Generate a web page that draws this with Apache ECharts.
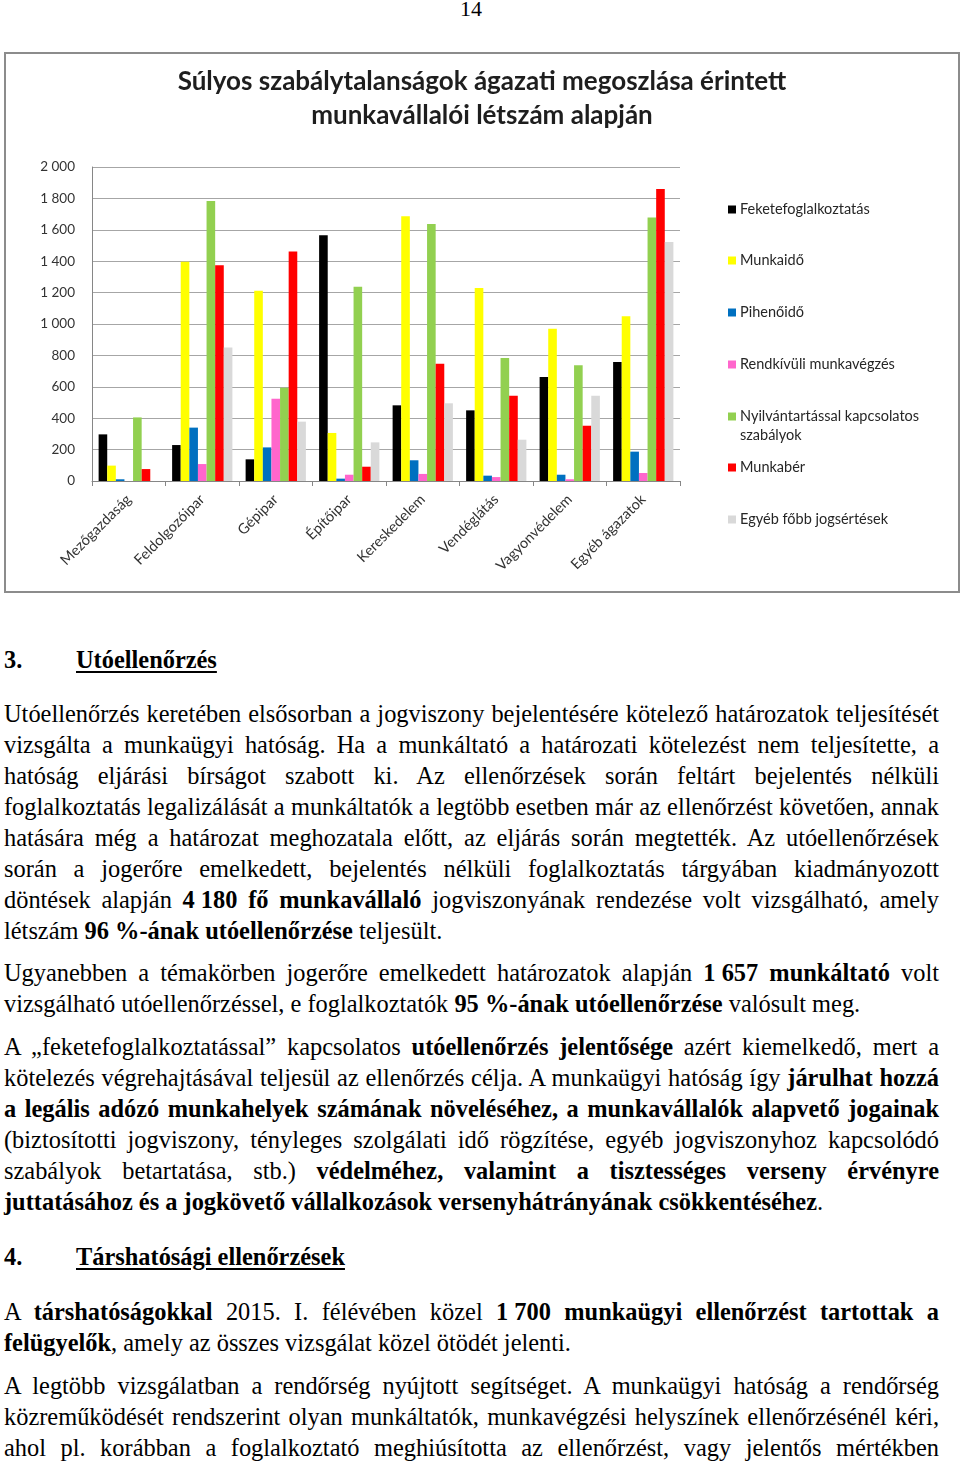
<!DOCTYPE html>
<html><head><meta charset="utf-8">
<script src="https://cdn.jsdelivr.net/npm/echarts@6/dist/echarts.min.js"></script>
<style>
body{margin:0;background:#fff;width:960px;height:1463px;position:relative;overflow:hidden;font-family:"Liberation Serif","Times New Roman",serif;color:#000}
#pn{position:absolute;top:-4px;left:0;width:942px;text-align:center;font-size:22px;line-height:26px}
#chart{position:absolute;left:4px;top:52px;width:956px;height:541px;border:2px solid #8c8c8c;box-sizing:border-box}
.blk{position:absolute;left:4px;width:935px;font-size:24.4px;line-height:31px}
.l{text-align:justify;text-align-last:justify;white-space:nowrap}
.e{text-align:left;text-align-last:left}
.nb{display:inline-block;white-space:nowrap}
.hd{font-weight:bold;text-align:left}
.hd .n{display:inline-block;width:72px}
.hd u{text-decoration-thickness:2px;text-underline-offset:3px}
</style></head>
<body>
<div id="pn">14</div>
<div id="chart"></div>

<div class="blk hd" style="top:644px"><span class="n">3.</span><u>Utóellenőrzés</u></div>

<div class="blk" style="top:698px">
<div class="l">Utóellenőrzés keretében elsősorban a jogviszony bejelentésére kötelező határozatok teljesítését</div>
<div class="l">vizsgálta a munkaügyi hatóság. Ha a munkáltató a határozati kötelezést nem teljesítette, a</div>
<div class="l">hatóság eljárási bírságot szabott ki. Az ellenőrzések során feltárt bejelentés nélküli</div>
<div class="l">foglalkoztatás legalizálását a munkáltatók a legtöbb esetben már az ellenőrzést követően, annak</div>
<div class="l">hatására még a határozat meghozatala előtt, az eljárás során megtették. Az utóellenőrzések</div>
<div class="l">során a jogerőre emelkedett, bejelentés nélküli foglalkoztatás tárgyában kiadmányozott</div>
<div class="l">döntések alapján <b><span class="nb">4 180</span> fő munkavállaló</b> jogviszonyának rendezése volt vizsgálható, amely</div>
<div class="l e">létszám <b>96&nbsp;%-ának utóellenőrzése</b> teljesült.</div>
</div>

<div class="blk" style="top:957px">
<div class="l">Ugyanebben a témakörben jogerőre emelkedett határozatok alapján <b><span class="nb">1 657</span> munkáltató</b> volt</div>
<div class="l e">vizsgálható utóellenőrzéssel, e foglalkoztatók <b>95&nbsp;%-ának utóellenőrzése</b> valósult meg.</div>
</div>

<div class="blk" style="top:1031px">
<div class="l">A „feketefoglalkoztatással” kapcsolatos <b>utóellenőrzés jelentősége</b> azért kiemelkedő, mert a</div>
<div class="l">kötelezés végrehajtásával teljesül az ellenőrzés célja. A munkaügyi hatóság így <b>járulhat hozzá</b></div>
<div class="l"><b>a legális adózó munkahelyek számának növeléséhez, a munkavállalók alapvető jogainak</b></div>
<div class="l">(biztosítotti jogviszony, tényleges szolgálati idő rögzítése, egyéb jogviszonyhoz kapcsolódó</div>
<div class="l">szabályok betartatása, stb.) <b>védelméhez, valamint a tisztességes verseny érvényre</b></div>
<div class="l e"><b>juttatásához és a jogkövető vállalkozások versenyhátrányának csökkentéséhez</b>.</div>
</div>

<div class="blk hd" style="top:1241px"><span class="n">4.</span><u>Társhatósági ellenőrzések</u></div>

<div class="blk" style="top:1296px">
<div class="l">A <b>társhatóságokkal</b> 2015. I. félévében közel <b><span class="nb">1 700</span> munkaügyi ellenőrzést tartottak a</b></div>
<div class="l e"><b>felügyelők</b>, amely az összes vizsgálat közel ötödét jelenti.</div>
</div>

<div class="blk" style="top:1370px">
<div class="l">A legtöbb vizsgálatban a rendőrség nyújtott segítséget. A munkaügyi hatóság a rendőrség</div>
<div class="l">közreműködését rendszerint olyan munkáltatók, munkavégzési helyszínek ellenőrzésénél kéri,</div>
<div class="l">ahol pl. korábban a foglalkoztató meghiúsította az ellenőrzést, vagy jelentős mértékben</div>
</div>

<script>
const titleLines = ['Súlyos szabálytalanságok ágazati megoszlása érintett', 'munkavállalói létszám alapján'];
const categories = ['Mezőgazdaság', 'Feldolgozóipar', 'Gépipar', 'Építőipar', 'Kereskedelem', 'Vendéglátás', 'Vagyonvédelem', 'Egyéb ágazatok'];
const seriesNames = ['Feketefoglalkoztatás', 'Munkaidő', 'Pihenőidő', 'Rendkívüli munkavégzés', 'Nyilvántartással kapcsolatos szabályok', 'Munkabér', 'Egyéb főbb jogsértések'];
const seriesColors = ['#000000', '#FFFF00', '#0070C0', '#FF66CC', '#92D050', '#FF0000', '#D9D9D9'];
const feketefoglalkoztatas = [297, 229, 138, 1565, 482, 450, 662, 758];
const munkaido = [98, 1397, 1212, 306, 1686, 1229, 970, 1049];
const pihenoido = [11, 340, 214, 15, 132, 34, 40, 187];
const rendkivuli = [0, 108, 524, 40, 45, 25, 11, 51];
const nyilvantartas = [405, 1783, 594, 1238, 1637, 783, 737, 1679];
const munkaber = [76, 1374, 1461, 91, 747, 543, 352, 1860];
const egyeb = [0, 851, 378, 246, 495, 263, 543, 1522];
const seriesValues = [feketefoglalkoztatas, munkaido, pihenoido, rendkivuli, nyilvantartas, munkaber, egyeb];
const yMin = 0, yMax = 2000, yStep = 200;

const legendCenters = [155, 206, 258, 310, 362, 413, 465];
const sans = 'Lato, "Open Sans", sans-serif';

const chart = echarts.init(document.getElementById('chart'), null, {renderer: 'canvas'});
const fmtThousands = v => v >= 1000 ? Math.floor(v / 1000) + ' ' + String(v % 1000).padStart(3, '0') : String(v);

const legends = seriesNames.map((name, i) => {
  const twoLine = name === 'Nyilvántartással kapcsolatos szabályok';
  return {
    data: [name],
    orient: 'vertical',
    left: 722,
    top: twoLine ? legendCenters[i] - 28 : legendCenters[i] - 9,
    padding: 0,
    itemWidth: 8,
    itemHeight: 8,
    itemGap: 0,
    icon: 'rect',
    selectedMode: false,
    formatter: twoLine ? () => '{e| }\n{t|Nyilvántartással kapcsolatos}\n{t|szabályok}' : undefined,
    textStyle: {
      fontFamily: sans, fontSize: 14.5, color: '#262626', lineHeight: 19, padding: [0, 0, 0, -1],
      rich: {e: {lineHeight: 19, fontSize: 14.5}, t: {lineHeight: 19, fontSize: 14.5, fontFamily: sans, color: '#262626'}}
    }
  };
});

chart.setOption({
  animation: false,
  backgroundColor: '#ffffff',
  title: {
    text: titleLines.join('\n'),
    left: 'center',
    top: 6,
    textStyle: {fontFamily: sans, fontSize: 26, fontWeight: 'bold', color: '#1e1e1e', lineHeight: 34}
  },
  legend: legends,
  grid: {left: 86, right: 278, top: 113, bottom: 110, containLabel: false},
  xAxis: {
    type: 'category',
    data: categories,
    axisLine: {show: true, lineStyle: {color: '#868686', width: 1}},
    axisTick: {show: true, length: 5, interval: 0, alignWithLabel: false, lineStyle: {color: '#868686'}},
    axisLabel: {rotate: 45, interval: 0, margin: 16, fontFamily: sans, fontSize: 14.5, color: '#333333'},
    splitLine: {show: false}
  },
  yAxis: {
    type: 'value',
    min: yMin, max: yMax, interval: yStep,
    axisLine: {show: true, lineStyle: {color: '#868686', width: 1}},
    axisTick: {show: false},
    axisLabel: {margin: 17, fontFamily: sans, fontSize: 13.5, color: '#333333', formatter: fmtThousands},
    splitLine: {show: true, lineStyle: {color: '#A6A6A6', width: 1}}
  },
  series: seriesNames.map((name, i) => ({
    name: name,
    type: 'bar',
    data: seriesValues[i],
    itemStyle: {color: seriesColors[i]},
    barGap: '0%',
    barCategoryGap: '18%'
  }))
});
</script>
</body></html>
